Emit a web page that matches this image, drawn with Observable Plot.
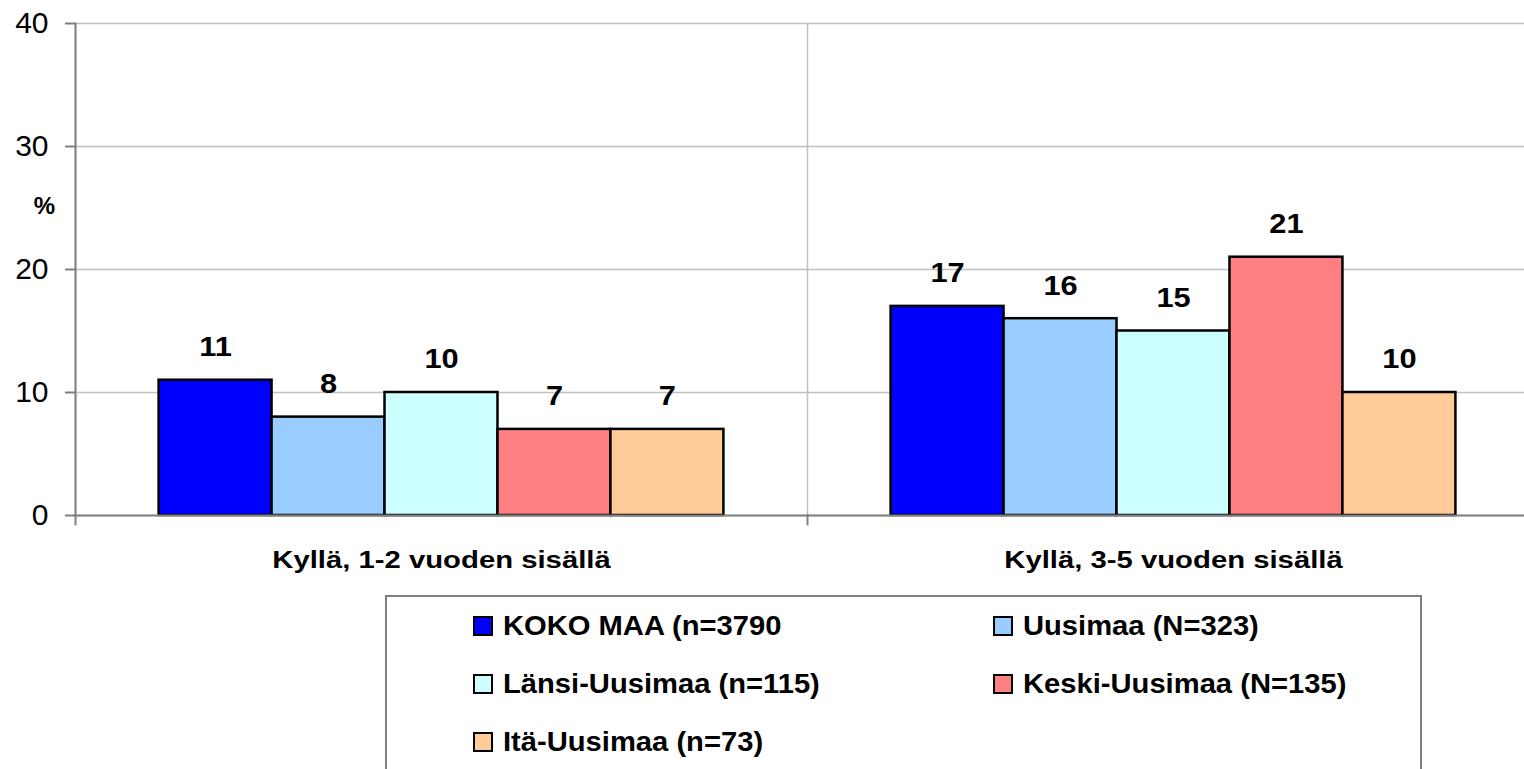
<!DOCTYPE html>
<html>
<head>
<meta charset="utf-8">
<script src="https://cdn.jsdelivr.net/npm/d3@7"></script>
<script src="https://cdn.jsdelivr.net/npm/@observablehq/plot@0.6"></script>
<style>
  html, body { margin: 0; padding: 0; background: #fff; overflow: hidden; width: 1524px; height: 769px; }
  #wrap { position: relative; width: 1524px; height: 769px; }
  #legend { position: absolute; left: 385px; top: 595px; width: 1037px; height: 240px;
            border: 2px solid #808080; box-sizing: border-box; background: #fff;
            font-family: "Liberation Sans", Arial, sans-serif; font-weight: bold; font-size: 27px; }
  .item { position: absolute; display: flex; align-items: center; white-space: nowrap; }
  .sw { width: 16px; height: 16px; border: 2px solid #000; margin-right: 10px; flex: none; }
  .item span { display: inline-block; transform: scaleX(1.08); transform-origin: left center; }
</style>
</head>
<body>
<div id="wrap"><div id="chart"></div><div id="legend"></div></div>
<script>
const categories = ["Kyllä, 1-2 vuoden sisällä", "Kyllä, 3-5 vuoden sisällä"];
const series = ["KOKO MAA (n=3790", "Uusimaa (N=323)", "Länsi-Uusimaa (n=115)", "Keski-Uusimaa (N=135)", "Itä-Uusimaa (n=73)"];
const values12 = [11, 8, 10, 7, 7];
const values35 = [17, 16, 15, 21, 10];
const colors = ["#0000FF", "#99CCFF", "#CCFFFF", "#FF8080", "#FFCC99"];
const yTicks = [0, 10, 20, 30, 40];

const data = [];
series.forEach((s, i) => {
  data.push({cat: categories[0], series: s, value: values12[i]});
  data.push({cat: categories[1], series: s, value: values35[i]});
});

const font = "'Liberation Sans', Arial, sans-serif";

const chart = Plot.plot({
  width: 1524,
  height: 596,
  marginLeft: 75,
  marginRight: -15,
  marginTop: 23,
  marginBottom: 81,
  style: {fontFamily: font, background: "white"},
  fx: {domain: categories, padding: 0, axis: null, round: false},
  x: {domain: series, paddingInner: 0, paddingOuter: 0.74, axis: null, round: false},
  y: {domain: [0, 40], axis: null},
  color: {domain: series, range: colors},
  marks: [
    Plot.gridY(yTicks, {stroke: "#c0c0c0", strokeOpacity: 1, strokeWidth: 1.5}),
    Plot.frame({anchor: "left", stroke: "#c0c0c0", strokeWidth: 1.5}),
    Plot.frame({anchor: "left", stroke: "#808080", strokeWidth: 2, insetTop: 492, insetBottom: -9}),
    Plot.frame({anchor: "left", stroke: "#808080", strokeWidth: 2, fx: [categories[0]]}),
    Plot.barY(data, {fx: "cat", x: "series", y: "value", fill: "series", stroke: "black", strokeWidth: 2.5}),
    Plot.frame({anchor: "bottom", stroke: "#808080", strokeWidth: 2}),
    Plot.axisY(yTicks, {tickSize: 10, tickPadding: 17, fontSize: 30, stroke: "#808080", strokeWidth: 2, fill: "black", label: null}),
    Plot.text(data, {fx: "cat", x: "series", y: "value", text: d => String(d.value), dy: -33,
      fontSize: 28, fontWeight: "bold", fill: "black", className: "vlab"}),
    Plot.text(categories, {fx: d => d, text: d => d, frameAnchor: "bottom", dy: 52,
      fontSize: 24, fontWeight: "bold", fill: "black", className: "clab"}),
    Plot.text([{c: categories[0]}], {fx: "c", text: () => "%", frameAnchor: "top-left", textAnchor: "middle",
      dx: -31, dy: 173, fontSize: 24, fontWeight: "bold", fill: "black"})
  ]
});
document.getElementById("chart").appendChild(chart);

// widen text horizontally to match the reference's stretched glyphs
function stretch(selector, sx) {
  chart.querySelectorAll(selector).forEach(t => {
    const tr = t.getAttribute("transform");
    if (tr) {
      t.setAttribute("transform", tr + ` scale(${sx},1)`);
    } else {
      const x = +(t.getAttribute("x") || 0);
      t.setAttribute("transform", `translate(${x},0) scale(${sx},1) translate(${-x},0)`);
    }
  });
}
stretch(".clab text", 1.22);
stretch(".vlab text", 1.1);

const legend = document.getElementById("legend");
const pos = [[86, 17], [606, 17], [86, 75], [606, 75], [86, 133]];
series.forEach((s, i) => {
  const it = document.createElement("div");
  it.className = "item";
  it.style.left = pos[i][0] + "px";
  it.style.top = pos[i][1] + "px";
  it.style.height = "24px";
  const sw = document.createElement("div");
  sw.className = "sw";
  sw.style.background = colors[i];
  const t = document.createElement("span");
  t.textContent = s;
  it.appendChild(sw); it.appendChild(t);
  legend.appendChild(it);
});
</script>
</body>
</html>
